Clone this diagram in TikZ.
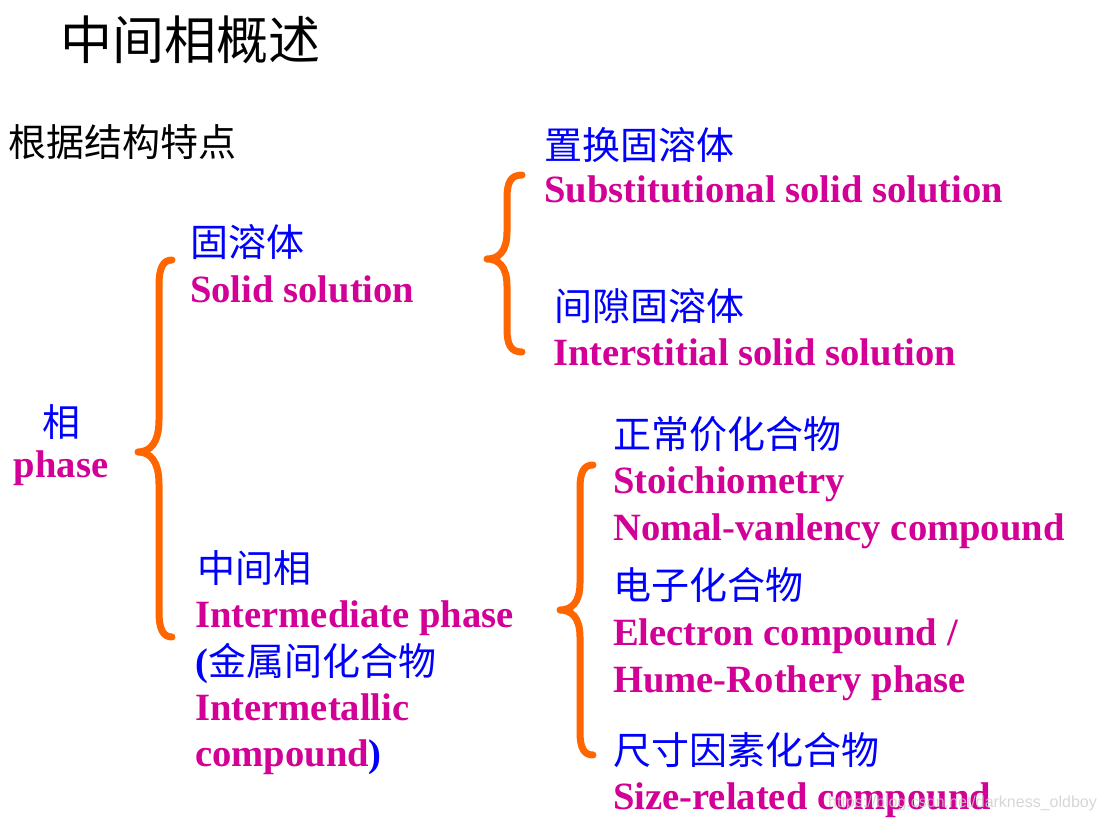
\documentclass[tikz,border=0pt]{standalone}
\usepackage{fontspec}
\setmainfont{Liberation Serif}
\newfontfamily\cjk{Noto Sans CJK SC}
\newfontfamily\wmfont{Liberation Sans}
\usetikzlibrary{positioning}
\definecolor{cnblue}{RGB}{0,0,255}
\definecolor{enred}{RGB}{210,0,150}
\definecolor{braceorange}{RGB}{255,102,0}

\begin{document}
\begin{tikzpicture}[x=1pt,y=-1pt,
  cn/.style={anchor=base west,inner sep=0pt,text=cnblue,font=\cjk\fontsize{38}{38}\selectfont},
  en/.style={anchor=base west,inner sep=0pt,text=enred,font=\bfseries\fontsize{38.6}{39}\selectfont},
  phasebrace/.style={draw=braceorange,line width=7pt,line cap=round,line join=round}]
\useasboundingbox (0,0) rectangle (1111,821);

% headings
\node[cn,text=black,font=\cjk\fontsize{52}{52}\selectfont] (title) at (60,60) {中间相概述};
\node[cn,text=black] (basis) at (8,157) {根据结构特点};

% phase
\node[cn,anchor=base] (phasecn) at (61,436) {相};
\node[en,anchor=base] (phaseen) at (61,477) {phase};

% solid solution
\node[cn] (solid) at (190,256) {固溶体};
\node[en] (soliden) at (190,302) {Solid solution};
\node[cn] (subst) at (544,160) {置换固溶体};
\node[en] (substen) at (544,203) {Substitutional solid solution};
\node[cn] (inter) at (554,320) {间隙固溶体};
\node[en] (interen) at (553,365) {Interstitial solid solution};

% intermediate phase
\node[cn] (interm) at (197,582) {中间相};
\node[en] (intermen) at (195,627) {Intermediate phase};
\node[cn] (metallic) at (195,675) {{\rmfamily\bfseries\fontsize{38.6}{39}\selectfont(}金属间化合物};
\node[en] (metallicen) at (195,720) {Intermetallic};
\node[en] (compounden) at (195,766) {compound{\color{cnblue})}};
\node[cn] (normal) at (613,448) {正常价化合物};
\node[en] (normalen) at (613,493) {Stoichiometry};
\node[en] (valencyen) at (613,540) {Nomal-vanlency compound};
\node[cn] (electron) at (613,599) {电子化合物};
\node[en] (electronen) at (613,645) {Electron compound /};
\node[en] (humeen) at (613,692) {Hume-Rothery phase};
\node[cn] (size) at (613,764) {尺寸因素化合物};
\node[en] (sizeen) at (613,809) {Size-related compound};

% braces
\draw[phasebrace] (172,260) .. controls (163,260) and (159,268) .. (159,285) -- (159,420)
  .. controls (159,443) and (150,452) .. (138,452) .. controls (150,452) and (159,461) .. (159,484)
  -- (159,612) .. controls (159,629) and (163,637) .. (172,637);
\draw[phasebrace] (522,175) .. controls (511,175) and (507,182) .. (507,198) -- (507,232)
  .. controls (507,252) and (498,259) .. (487,259) .. controls (498,259) and (507,266) .. (507,286)
  -- (507,329) .. controls (507,345) and (511,352) .. (522,352);
\draw[phasebrace] (593,465) .. controls (584,465) and (580,472) .. (580,488) -- (580,583)
  .. controls (580,603) and (571,610) .. (560,610) .. controls (571,610) and (580,617) .. (580,637)
  -- (580,732) .. controls (580,748) and (584,755) .. (593,755);

% watermark
\node[anchor=base west,inner sep=0pt,text=gray!40,opacity=0.8,font=\wmfont\fontsize{16}{16}\selectfont] (mark) at (828,807) {https://blog.csdn.net/darkness\_oldboy};
\end{tikzpicture}
\end{document}
